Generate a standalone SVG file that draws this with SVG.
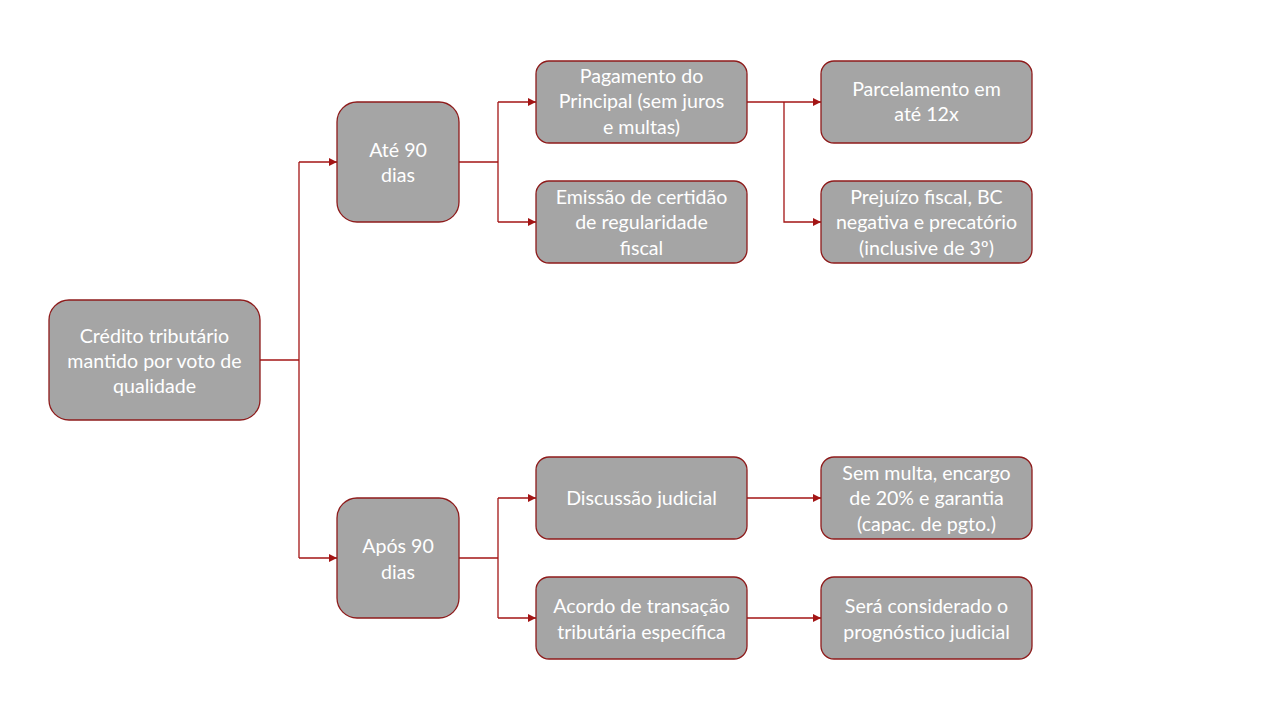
<svg xmlns="http://www.w3.org/2000/svg" width="1280" height="720" viewBox="0 0 1280 720">
<style>
.box{fill:#a5a5a5;stroke:#8e1b1b;stroke-width:1.3}
.t{font-family:Lato,"Open Sans","Liberation Sans",sans-serif;font-size:19.6px;fill:#ffffff;text-anchor:middle}
.c{fill:none;stroke:#a31515;stroke-width:1.3}
</style>
<defs>
<marker id="ah" viewBox="0 0 10 10" refX="10" refY="5" markerWidth="8" markerHeight="8" markerUnits="userSpaceOnUse" orient="auto">
<path d="M0,0 L10,5 L0,10 z" fill="#a31515"/>
</marker>
</defs>
<rect width="1280" height="720" fill="#ffffff"/>
<g id="connectors">
<path class="c" d="M260,360 H299"/>
<path class="c" d="M299,162 V558"/>
<path class="c" d="M299,162 H337" marker-end="url(#ah)"/>
<path class="c" d="M299,558 H337" marker-end="url(#ah)"/>
<path class="c" d="M459,162 H498"/>
<path class="c" d="M498,102 V222"/>
<path class="c" d="M498,102 H536" marker-end="url(#ah)"/>
<path class="c" d="M498,222 H536" marker-end="url(#ah)"/>
<path class="c" d="M459,558 H498"/>
<path class="c" d="M498,498 V618"/>
<path class="c" d="M498,498 H536" marker-end="url(#ah)"/>
<path class="c" d="M498,618 H536" marker-end="url(#ah)"/>
<path class="c" d="M747,102 H821" marker-end="url(#ah)"/>
<path class="c" d="M784,102 V222 H821" marker-end="url(#ah)"/>
<path class="c" d="M747,498 H821" marker-end="url(#ah)"/>
<path class="c" d="M747,618 H821" marker-end="url(#ah)"/>
</g>
<g id="root">
<rect class="box" x="49" y="300" width="211" height="120" rx="20"/>
<text class="t" x="154.5" y="343">Crédito tributário</text>
<text class="t" x="154.5" y="368">mantido por voto de</text>
<text class="t" x="154.5" y="393">qualidade</text>
</g>
<g id="ate90">
<rect class="box" x="337" y="102" width="122" height="120" rx="20"/>
<text class="t" x="398" y="157">Até 90</text>
<text class="t" x="398" y="182">dias</text>
</g>
<g id="apos90">
<rect class="box" x="337" y="498" width="122" height="120" rx="20"/>
<text class="t" x="398" y="553">Após 90</text>
<text class="t" x="398" y="579">dias</text>
</g>
<g id="pagamento">
<rect class="box" x="536" y="61" width="211" height="82" rx="13"/>
<text class="t" x="641.5" y="83">Pagamento do</text>
<text class="t" x="641.5" y="108">Principal (sem juros</text>
<text class="t" x="641.5" y="134">e multas)</text>
</g>
<g id="emissao">
<rect class="box" x="536" y="181" width="211" height="82" rx="13"/>
<text class="t" x="641.5" y="204">Emissão de certidão</text>
<text class="t" x="641.5" y="229">de regularidade</text>
<text class="t" x="641.5" y="255">fiscal</text>
</g>
<g id="discussao">
<rect class="box" x="536" y="457" width="211" height="82" rx="13"/>
<text class="t" x="641.5" y="505">Discussão judicial</text>
</g>
<g id="acordo">
<rect class="box" x="536" y="577" width="211" height="82" rx="13"/>
<text class="t" x="641.5" y="613">Acordo de transação</text>
<text class="t" x="641.5" y="639">tributária específica</text>
</g>
<g id="parcelamento">
<rect class="box" x="821" y="61" width="211" height="82" rx="13"/>
<text class="t" x="926.5" y="96">Parcelamento em</text>
<text class="t" x="926.5" y="121">até 12x</text>
</g>
<g id="prejuizo">
<rect class="box" x="821" y="181" width="211" height="82" rx="13"/>
<text class="t" x="926.5" y="204">Prejuízo fiscal, BC</text>
<text class="t" x="926.5" y="229">negativa e precatório</text>
<text class="t" x="926.5" y="255">(inclusive de 3º)</text>
</g>
<g id="semmulta">
<rect class="box" x="821" y="457" width="211" height="82" rx="13"/>
<text class="t" x="926.5" y="480">Sem multa, encargo</text>
<text class="t" x="926.5" y="505">de 20% e garantia</text>
<text class="t" x="926.5" y="531">(capac. de pgto.)</text>
</g>
<g id="sera">
<rect class="box" x="821" y="577" width="211" height="82" rx="13"/>
<text class="t" x="926.5" y="613">Será considerado o</text>
<text class="t" x="926.5" y="639">prognóstico judicial</text>
</g>
</svg>
